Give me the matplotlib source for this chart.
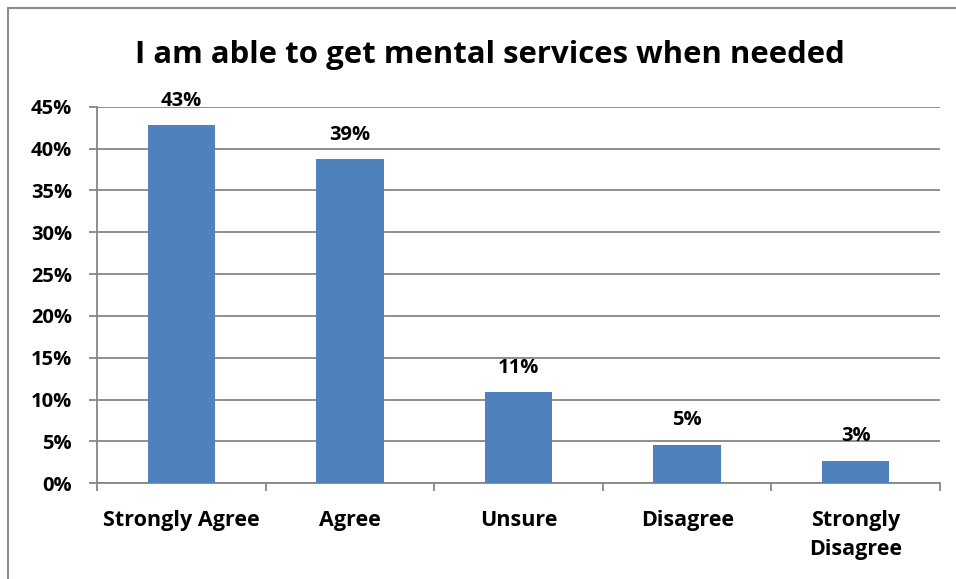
import matplotlib
matplotlib.use("Agg")
import matplotlib.pyplot as plt
from matplotlib.ticker import FixedLocator, PercentFormatter
from matplotlib.lines import Line2D

categories = ["Strongly Agree", "Agree", "Unsure", "Disagree", "Strongly\nDisagree"]
values = [42.8, 38.7, 10.9, 4.6, 2.7]
yticks = [0, 5, 10, 15, 20, 25, 30, 35, 40, 45]
title = "I am able to get mental services when needed"

plt.rcParams["font.family"] = ["Open Sans", "DejaVu Sans"]
plt.rcParams["font.weight"] = "bold"

bar_color = "#4F81BD"
grid_color = "#868686"

fig = plt.figure(figsize=(9.56, 5.79), dpi=100)
ax = fig.add_axes([0.1015, 0.1653, 0.8818, 0.6504])

x = list(range(len(categories)))
bars = ax.bar(x, values, width=0.4, color=bar_color, zorder=3)

for xi, v in zip(x, values):
    ax.annotate(f"{v:.0f}%", (xi, v), xytext=(0, 17.5), textcoords="offset points",
                ha="center", va="center", fontsize=14.5, fontweight="bold", color="black")

ax.set_xlim(-0.5, len(categories) - 0.5)
ax.set_ylim(0, 45)
ax.yaxis.set_major_locator(FixedLocator(yticks))
ax.yaxis.set_major_formatter(PercentFormatter(decimals=0))
ax.grid(axis="y", color=grid_color, linewidth=1.3, zorder=0)

ax.set_xticks(x)
ax.set_xticklabels(categories, fontsize=15.5, fontweight="bold", linespacing=1.55)
ax.xaxis.set_minor_locator(FixedLocator([i - 0.5 for i in range(len(categories) + 1)]))
ax.tick_params(axis="x", which="major", length=0, pad=19)
ax.tick_params(axis="x", which="minor", length=6, width=1.3, color=grid_color)
ax.tick_params(axis="y", length=6, width=1.3, color=grid_color, labelsize=14.5, pad=12)
for lab in ax.get_yticklabels():
    lab.set_fontweight("bold")

for side in ("top", "right"):
    ax.spines[side].set_visible(False)
for side in ("left", "bottom"):
    ax.spines[side].set_color(grid_color)
    ax.spines[side].set_linewidth(1.3)

fig.text(0.512, 1 - 62.5 / 579, title, ha="center", va="baseline", fontsize=22.4, fontweight="bold")

# outer chart frame (top and left edges)
fig.add_artist(Line2D([8 / 956, 1.0], [1 - 7.5 / 579] * 2, transform=fig.transFigure,
                      color="#8C8C8C", linewidth=1.5))
fig.add_artist(Line2D([8 / 956] * 2, [0.0, 1 - 7.5 / 579], transform=fig.transFigure,
                      color="#8C8C8C", linewidth=1.5))

fig.savefig("out.png", dpi=100)
